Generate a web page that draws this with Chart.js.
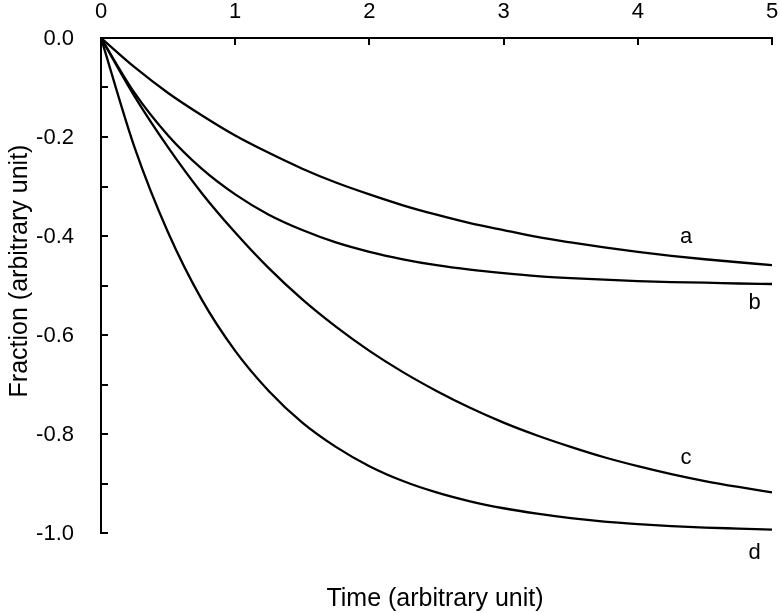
<!DOCTYPE html>
<html>
<head>
<meta charset="utf-8">
<script src="https://cdn.jsdelivr.net/npm/chart.js@4"></script>
<style>
  html, body { margin: 0; padding: 0; background: #fff; }
</style>
</head>
<body>
<canvas id="c" width="780" height="613"></canvas>
<script>
// time points (arbitrary unit)
const times = [0, 0.25, 0.5, 0.75, 1, 1.25, 1.5, 1.75, 2, 2.25, 2.5, 2.75, 3, 3.25, 3.5, 3.75, 4, 4.25, 4.5, 4.75, 5];

// curves
const seriesA = [0, -0.059, -0.111, -0.156, -0.197, -0.232, -0.264, -0.292, -0.316, -0.338, -0.357, -0.374, -0.388, -0.402, -0.413, -0.423, -0.432, -0.440, -0.447, -0.453, -0.459];
const seriesB = [0, -0.111, -0.197, -0.264, -0.316, -0.357, -0.388, -0.413, -0.432, -0.447, -0.459, -0.468, -0.475, -0.481, -0.485, -0.488, -0.491, -0.493, -0.494, -0.496, -0.497];
const seriesC = [0, -0.118, -0.221, -0.313, -0.393, -0.465, -0.528, -0.583, -0.632, -0.675, -0.713, -0.747, -0.777, -0.803, -0.826, -0.847, -0.865, -0.881, -0.895, -0.907, -0.918];
const seriesD = [0, -0.221, -0.393, -0.528, -0.632, -0.713, -0.777, -0.826, -0.865, -0.895, -0.918, -0.936, -0.950, -0.961, -0.970, -0.977, -0.982, -0.986, -0.989, -0.991, -0.993];

const seriesNames = ['a', 'b', 'c', 'd'];
// where each curve letter sits, in data units
const labelX = [4.36, 4.87, 4.36, 4.87];
const labelY = [-0.402, -0.535, -0.848, -1.04];

const xTicks = [0, 1, 2, 3, 4, 5];
const yMajorTicks = [0, -0.2, -0.4, -0.6, -0.8, -1.0];
const yMinorTicks = [-0.1, -0.3, -0.5, -0.7, -0.9];

const xTitle = 'Time (arbitrary unit)';
const yTitle = 'Fraction (arbitrary unit)';

const FONT = '"Liberation Sans", Arial, sans-serif';
const INK = '#000';

function toPoints(ys) {
    let pts = [];
    for (let i = 0; i < times.length; i++) {
        pts.push({ x: times[i], y: ys[i] });
    }
    return pts;
}

const allSeries = [seriesA, seriesB, seriesC, seriesD];
const datasets = allSeries.map((s, i) => ({
    label: seriesNames[i],
    data: toPoints(s),
    borderColor: INK,
    borderWidth: 2.3,
    pointRadius: 0,
    fill: false,
    cubicInterpolationMode: 'monotone'
}));

// inner tick marks, tick labels, axis titles and curve letters
const decorations = {
    id: 'decorations',
    afterDraw(chart) {
        const ctx = chart.ctx;
        const xs = chart.scales.x;
        const ys = chart.scales.y;
        const area = chart.chartArea;
        ctx.save();
        ctx.strokeStyle = INK;
        ctx.lineWidth = 2;
        ctx.beginPath();
        xTicks.forEach(v => {
            const px = Math.round(xs.getPixelForValue(v));
            ctx.moveTo(px, area.top);
            ctx.lineTo(px, area.top + 7);
        });
        yMajorTicks.concat(yMinorTicks).forEach(v => {
            const py = Math.round(ys.getPixelForValue(v));
            ctx.moveTo(area.left, py);
            ctx.lineTo(area.left + 7, py);
        });
        ctx.stroke();

        ctx.fillStyle = INK;

        // tick labels
        ctx.font = '22px ' + FONT;
        ctx.textAlign = 'center';
        ctx.textBaseline = 'alphabetic';
        xTicks.forEach(v => {
            ctx.fillText(String(v), xs.getPixelForValue(v), 18);
        });
        ctx.textAlign = 'right';
        ctx.textBaseline = 'middle';
        yMajorTicks.forEach(v => {
            ctx.fillText(v.toFixed(1), area.left - 27, ys.getPixelForValue(v) + 1);
        });

        // curve letters
        ctx.font = '22px ' + FONT;
        ctx.textAlign = 'center';
        for (let i = 0; i < seriesNames.length; i++) {
            ctx.fillText(seriesNames[i], xs.getPixelForValue(labelX[i]), ys.getPixelForValue(labelY[i]));
        }

        // axis titles
        ctx.font = '25px ' + FONT;
        ctx.textBaseline = 'alphabetic';
        ctx.fillText(xTitle, 435, 606);

        ctx.translate(27, 271);
        ctx.rotate(-Math.PI / 2);
        ctx.fillText(yTitle, 0, 0);
        ctx.restore();
    }
};

const chart = new Chart(document.getElementById('c'), {
    type: 'line',
    data: { datasets: datasets },
    options: {
        responsive: false,
        animation: false,
        layout: { padding: { top: 0, right: 8, bottom: 80, left: 0 } },
        plugins: {
            legend: { display: false },
            tooltip: { enabled: false }
        },
        scales: {
            x: {
                type: 'linear',
                position: 'top',
                min: 0,
                max: 5,
                afterFit: (scale) => { scale.height = 38; },
                grid: { display: false },
                border: { display: true, color: INK, width: 2 },
                ticks: { display: false, stepSize: 1 }
            },
            y: {
                type: 'linear',
                min: -1,
                max: 0,
                afterFit: (scale) => { scale.width = 101; },
                grid: { display: false },
                border: { display: true, color: INK, width: 2 },
                ticks: { display: false, stepSize: 0.2 }
            }
        }
    },
    plugins: [decorations]
});
</script>
</body>
</html>
